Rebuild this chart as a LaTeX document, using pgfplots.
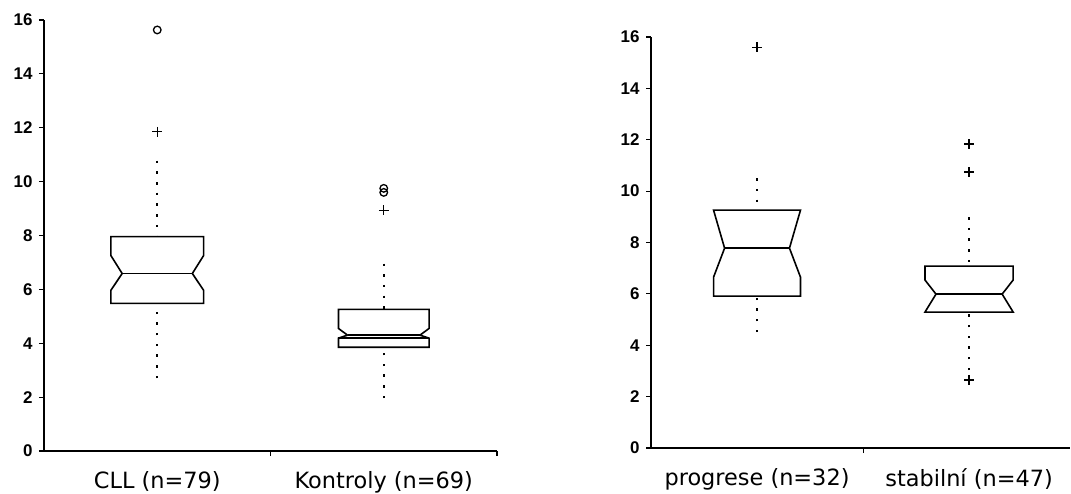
\documentclass[border=0pt]{standalone}
\usepackage{fontspec}
\setmainfont{DejaVu Sans}
\newfontfamily\tickfont{Liberation Sans}
\usepackage{pgfplots}
\pgfplotsset{compat=1.18}
\pgfplotsset{
  panel/.style={
    scale only axis, anchor=south west, clip=false,
    ymin=0, ymax=16, ytick={0,2,...,16},
    axis x line*=bottom, axis y line*=left,
    axis line style={line width=1.8bp,-},
    tick align=outside, major tick length=5bp,
    tick style={line width=1.1bp,black},
    /pgf/number format/assume math mode=true,
    yticklabel style={font=\tickfont\bfseries\fontsize{17}{17}\selectfont, xshift=-3bp},
    xtick={1,2}, xticklabels={},
    extra x tick style={tick style={draw=none},
      tick label style={font=\fontsize{22.5}{22.5}\selectfont, yshift=-12bp}},
  },
  boxst/.style={draw=black, line width=1.6bp, fill=white, mark=none},
  whisk/.style={draw=black, line width=2.2bp, dash pattern=on 2.5bp off 8.2bp, mark=none},
  plus/.style={only marks, mark=+, mark size=5bp, mark options={line width=1.3bp, black}},
  circ/.style={only marks, mark=o, mark size=3.8bp, mark options={line width=1.3bp, black}},
}
\begin{document}
\begin{tikzpicture}
\useasboundingbox (0,0) rectangle (1071bp,494bp);
% ---------- left panel ----------
\begin{axis}[panel, at={(44bp,43bp)}, width=453bp, height=431bp,
  xmin=0, xmax=2,
  extra x ticks={0.5,1.5}, extra x tick labels={CLL (n=79), Kontroly (n=69)}]
% CLL
\addplot[whisk] coordinates {(0.5,10.78) (0.5,7.96)};
\addplot[whisk] coordinates {(0.5,2.70) (0.5,5.48)};
\addplot[boxst] coordinates {(0.295,5.48) (0.295,5.96) (0.345,6.59) (0.295,7.26) (0.295,7.96)
  (0.705,7.96) (0.705,7.26) (0.655,6.59) (0.705,5.96) (0.705,5.48)} --cycle;
\addplot[boxst] coordinates {(0.345,6.59) (0.655,6.59)};
\addplot[plus] coordinates {(0.5,11.85)};
\addplot[circ] coordinates {(0.5,15.63)};
% Kontroly
\addplot[whisk] coordinates {(1.5,6.96) (1.5,5.26)};
\addplot[whisk] coordinates {(1.5,1.96) (1.5,3.85)};
\addplot[boxst] coordinates {(1.3,3.85) (1.3,4.19) (1.34,4.30) (1.3,4.55) (1.3,5.26)
  (1.7,5.26) (1.7,4.55) (1.66,4.30) (1.7,4.19) (1.7,3.85)} --cycle;
\addplot[boxst] coordinates {(1.34,4.30) (1.66,4.30)};
\addplot[boxst] coordinates {(1.3,4.19) (1.7,4.19)};
\addplot[plus] coordinates {(1.5,8.93)};
\addplot[circ] coordinates {(1.5,9.60) (1.5,9.75)};
\end{axis}
% ---------- right panel ----------
\begin{axis}[panel, at={(651bp,46bp)}, width=419bp, height=411bp,
  xmin=0, xmax=1.976,
  extra x ticks={0.5,1.5}, extra x tick labels={progrese (n=32), stabilní (n=47)}]
% progrese
\addplot[whisk] coordinates {(0.5,10.5) (0.5,9.26)};
\addplot[whisk] coordinates {(0.5,4.51) (0.5,5.91)};
\addplot[boxst] coordinates {(0.295,5.91) (0.295,6.65) (0.347,7.78) (0.295,9.26)
  (0.705,9.26) (0.653,7.78) (0.705,6.65) (0.705,5.91)} --cycle;
\addplot[boxst] coordinates {(0.347,7.78) (0.653,7.78)};
\addplot[plus] coordinates {(0.5,15.6)};
% stabilni
\addplot[whisk] coordinates {(1.5,8.99) (1.5,7.08)};
\addplot[whisk] coordinates {(1.5,3.03) (1.5,5.29)};
\addplot[boxst] coordinates {(1.292,5.29) (1.344,5.99) (1.292,6.54) (1.292,7.08)
  (1.708,7.08) (1.708,6.54) (1.656,5.99) (1.708,5.29)} --cycle;
\addplot[boxst] coordinates {(1.344,5.99) (1.656,5.99)};
\addplot[plus] coordinates {(1.5,2.65) (1.5,10.74) (1.5,11.83)};
\end{axis}
\end{tikzpicture}
\end{document}
